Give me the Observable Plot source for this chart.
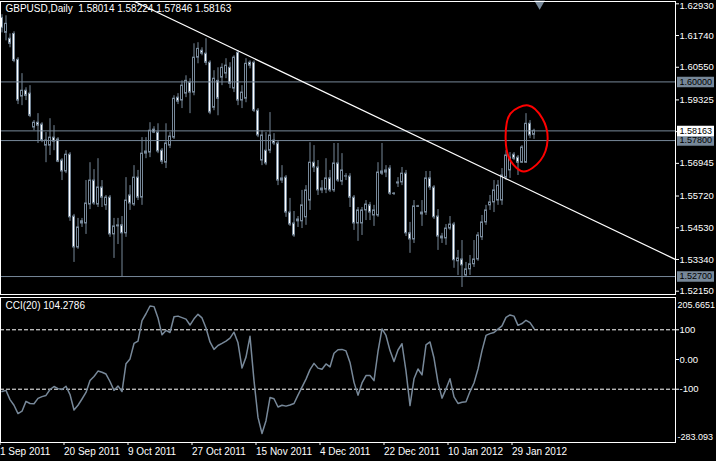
<!DOCTYPE html>
<html><head><meta charset="utf-8">
<script src="https://cdn.jsdelivr.net/npm/d3@7"></script>
<script src="https://cdn.jsdelivr.net/npm/@observablehq/plot@0.6"></script>
<style>
html,body{margin:0;padding:0;background:#000;}
#chart{width:716px;height:461px;overflow:hidden;background:#000;}
#chart svg{display:block;}
</style></head><body><div id="chart"></div>
<script>
// ---- data: GBPUSD daily bars, 1 Sep 2011 .. 3 Feb 2012 (index = bar number) ----
const opens = [1.6240,1.6184,1.6162,1.6180,1.6083,1.5945,1.5967,1.5956,1.5829,1.5847,
1.5840,1.5761,1.5761,1.5791,1.5784,1.5705,1.5664,1.5727,1.5495,1.5379,
1.5477,1.5469,1.5540,1.5630,1.5540,1.5604,1.5537,1.5566,1.5428,1.5458,
1.5462,1.5432,1.5574,1.5540,1.5641,1.5566,1.5731,1.5735,1.5821,1.5810,
1.5742,1.5697,1.5761,1.5791,1.5941,1.5930,1.5956,1.5997,1.5960,1.6091,
1.6117,1.6106,1.6072,1.5903,1.6004,1.6016,1.6031,1.6053,1.5975,1.6109,
1.5930,1.5937,1.6072,1.6072,1.5892,1.5705,1.5742,1.5742,1.5780,1.5769,
1.5630,1.5641,1.5510,1.5469,1.5477,1.5477,1.5492,1.5555,1.5697,1.5679,
1.5593,1.5596,1.5638,1.5593,1.5694,1.5626,1.5645,1.5645,1.5566,1.5469,
1.5469,1.5518,1.5537,1.5499,1.5499,1.5664,1.5660,1.5675,1.5581,1.5619,
1.5623,1.5656,1.5432,1.5409,1.5533,1.5503,1.5510,1.5638,1.5604,1.5495,
1.5420,1.5413,1.5450,1.5465,1.5327,1.5334,1.5274,1.5297,1.5316,1.5334,
1.5417,1.5473,1.5537,1.5548,1.5555,1.5555,1.5641,1.5668,1.5727,1.5716,
1.5697,1.5697,1.5843,1.58014];
const highs = [1.6252,1.6248,1.6180,1.6188,1.6091,1.6031,1.5978,1.5986,1.5855,1.5881,
1.5847,1.5810,1.5862,1.5836,1.5791,1.5712,1.5742,1.5735,1.5503,1.5488,
1.5488,1.5630,1.5697,1.5671,1.5712,1.5630,1.5574,1.5574,1.5488,1.5488,
1.5495,1.5641,1.5611,1.5686,1.5668,1.5791,1.5791,1.5847,1.5832,1.5843,
1.5750,1.5843,1.5810,1.5948,1.5956,1.6004,1.6023,1.6012,1.6143,1.6147,
1.6128,1.6162,1.6079,1.6042,1.6053,1.6068,1.6087,1.6072,1.6098,1.6117,
1.5986,1.6087,1.6079,1.6079,1.5900,1.5817,1.5810,1.5885,1.5806,1.5780,
1.5686,1.5649,1.5563,1.5514,1.5495,1.5593,1.5611,1.5772,1.5761,1.5705,
1.5630,1.5712,1.5668,1.5769,1.5769,1.5731,1.5656,1.5656,1.5574,1.5529,
1.5529,1.5555,1.5548,1.5537,1.5697,1.5769,1.5686,1.5686,1.5585,1.5641,
1.5679,1.5668,1.5473,1.5555,1.5537,1.5555,1.5664,1.5664,1.5611,1.5521,
1.5432,1.5465,1.5495,1.5473,1.5368,1.5405,1.5323,1.5349,1.5405,1.5435,
1.5499,1.5537,1.5574,1.5630,1.5630,1.5675,1.5742,1.5735,1.5735,1.5724,
1.5761,1.5881,1.5855,1.58224];
const lows = [1.6184,1.6154,1.6128,1.6072,1.5915,1.5911,1.5930,1.5866,1.5817,1.5769,
1.5772,1.5697,1.5724,1.5742,1.5697,1.5630,1.5656,1.5477,1.5323,1.5372,
1.5454,1.5428,1.5521,1.5537,1.5529,1.5529,1.5518,1.5417,1.5338,1.5390,
1.5267,1.5417,1.5518,1.5533,1.5555,1.5537,1.5712,1.5716,1.5806,1.5731,
1.5690,1.5675,1.5750,1.5784,1.5915,1.5900,1.5941,1.5881,1.5948,1.6068,
1.6098,1.6061,1.5877,1.5892,1.5873,1.5986,1.6012,1.5975,1.5960,1.5911,
1.5900,1.5922,1.6049,1.5885,1.5791,1.5686,1.5686,1.5731,1.5761,1.5611,
1.5619,1.5492,1.5458,1.5417,1.5454,1.5450,1.5462,1.5518,1.5660,1.5574,
1.5581,1.5581,1.5585,1.5585,1.5623,1.5611,1.5630,1.5529,1.5443,1.5402,
1.5424,1.5480,1.5480,1.5458,1.5492,1.5649,1.5641,1.5574,1.5574,1.5604,
1.5611,1.5420,1.5357,1.5394,1.5529,1.5458,1.5499,1.5593,1.5484,1.5368,
1.5394,1.5387,1.5443,1.5301,1.5274,1.5229,1.5267,1.5274,1.5304,1.5327,
1.5405,1.5462,1.5518,1.5510,1.5537,1.5537,1.5630,1.5638,1.5705,1.5649,
1.5694,1.5694,1.5787,1.57846];
const closes = [1.6203,1.6218,1.6143,1.6079,1.5930,1.5967,1.5948,1.5873,1.5847,1.5836,
1.5780,1.5780,1.5791,1.5776,1.5701,1.5664,1.5727,1.5492,1.5379,1.5454,
1.5469,1.5544,1.5630,1.5544,1.5604,1.5566,1.5566,1.5428,1.5458,1.5462,
1.5432,1.5555,1.5544,1.5641,1.5566,1.5731,1.5739,1.5817,1.5810,1.5739,
1.5701,1.5769,1.5795,1.5937,1.5926,1.5986,1.6004,1.5960,1.6091,1.6124,
1.6106,1.6072,1.5885,1.6012,1.5937,1.6053,1.6061,1.5993,1.6091,1.5930,
1.5960,1.6068,1.6061,1.5892,1.5799,1.5799,1.5694,1.5799,1.5769,1.5630,
1.5638,1.5510,1.5465,1.5424,1.5484,1.5537,1.5593,1.5697,1.5679,1.5593,
1.5600,1.5638,1.5593,1.5694,1.5630,1.5668,1.5646,1.5566,1.5469,1.5518,
1.5518,1.5540,1.5510,1.5518,1.5660,1.5656,1.5668,1.5581,1.5580,1.5623,
1.5656,1.5432,1.5409,1.5533,1.5532,1.5510,1.5638,1.5604,1.5492,1.5420,
1.5413,1.5450,1.5465,1.5331,1.5338,1.5312,1.5297,1.5316,1.5334,1.5424,
1.5473,1.5518,1.5548,1.5593,1.5611,1.5649,1.5724,1.5716,1.5712,1.5697,
1.5754,1.5843,1.5799,1.58163];
const cciValues = [-108,-104,-135,-154,-182,-174,-141,-148,-149,-131,
-125,-121,-101,-91,-98,-101,-90,-118,-170,-154,
-133,-111,-71,-57,-39,-43,-49,-74,-104,-89,
-108,-14,2,54,62,131,154,180,178,140,
83,98,91,144,146,141,136,116,137,152,
140,106,59,34,47,54,62,72,92,56,
-29,8,78,-71,-195,-249,-206,-128,-132,-160,
-154,-157,-153,-148,-120,-93,-66,-34,-13,-29,
-33,-15,-25,21,33,34,29,-10,-77,-120,
-79,-54,-54,-71,27,103,81,30,-7,32,
53,-39,-155,-65,-32,-52,49,59,5,-78,
-130,-99,-65,-126,-148,-144,-142,-108,-79,-32,
30,81,87,91,102,113,142,150,146,115,
121,132,124,104.2786];

const symbolName = "GBPUSD,Daily";
const cciName = "CCI(20)";
const priceTicks = [1.62930,1.61740,1.60550,1.59325,1.58135,1.56945,1.55720,1.54530,1.53340,1.52150];
const hiddenTick = 1.58135;                           // label covered by the bid box
const priceDomain = [1.52150, 1.62930];
const hLevels = [1.60000, 1.57800, 1.52700];           // horizontal line objects
const trendIdx = [32.6, 168.4];                       // trend line anchors (bar index)
const trendPrice = [1.63054, 1.53339];                // trend line anchors (price)
const ellipseIdx = [131.6, 135.1, 136.4, 134.6, 130.4, 127.1, 125.9, 127.1];
const ellipsePrice = [1.59115, 1.58628, 1.57840, 1.57052, 1.56640, 1.57052, 1.57915, 1.58815];
const shiftMarker = [134.4];
const cciDomain = [-283.093, 205.6651];
const cciMidTicks = [100, 0, -100];
const cciMidLabels = ["100", "0.00", "-100"];
const cciLevels = [100, -100];
const dateTicks = [0, 16, 32, 48, 64, 80, 96, 112, 128];
const dateLabels = ["1 Sep 2011","20 Sep 2011","9 Oct 2011","27 Oct 2011","15 Nov 2011","4 Dec 2011","22 Dec 2011","10 Jan 2012","29 Jan 2012"];

// ---- build ----
const bars = opens.map((o, i) => ({i, o, h: highs[i], l: lows[i], c: closes[i]}));
const last = bars[bars.length - 1];
const bid = last.c;
const levels = [...hLevels, bid];
const trend = trendIdx.map((i, k) => ({i, p: trendPrice[k]}));
const ellipse = ellipseIdx.map((i, k) => ({i, p: ellipsePrice[k]}));
const f5 = d3.format(".5f");
const GRAY = "#778899";
const FONT = "'Liberation Sans', Arial, sans-serif";
const AX = 9.5; // right-scale font size
const BX = 9;   // label-box font size
const N = bars.length - 1;
const topTick = priceTicks[0];
const title = `${symbolName}\u00a0\u00a0${f5(last.o)} ${f5(last.h)} ${f5(last.l)} ${f5(last.c)}`;
const cciTitle = `${cciName} ${cciValues[cciValues.length - 1].toFixed(4)}`;

const main = Plot.plot({
  width: 716, height: 296,
  marginLeft: 0, marginRight: 41, marginTop: 1, marginBottom: 2,
  style: {background: "#000", color: "#fff", fontFamily: FONT, fontSize: "10px", overflow: "visible"},
  x: {domain: [0, N], range: [1.5, 1.5 + 4 * N], axis: null},
  y: {domain: priceDomain, range: [290.7, 3.3], axis: null},
  marks: [
    Plot.ruleX(bars, {x: "i", y1: "l", y2: "h", stroke: GRAY}),
    Plot.rect(bars, {x1: d => d.i - 0.25, x2: d => d.i + 0.25, y1: "o", y2: "c",
      fill: d => d.c >= d.o ? "#000" : "#fff", stroke: GRAY}),
    Plot.ruleY(levels, {stroke: GRAY}),
    Plot.line(trend, {x: "i", y: "p", stroke: "#fff", strokeWidth: 1.2, clip: true}),
    Plot.line(ellipse, {x: "i", y: "p", curve: "catmull-rom-closed", stroke: "#ff0000", strokeWidth: 2}),
    Plot.dot(shiftMarker, {x: d => d, frameAnchor: "top", symbol: "triangle", r: 4, rotate: 180, fill: GRAY, dy: 2}),
    Plot.frame({stroke: "#fff"}),
    Plot.axisY(priceTicks, {anchor: "right", tickSize: 3, tickPadding: 1, fontSize: AX,
      tickFormat: d => (d === topTick || d === hiddenTick) ? "" : f5(d), label: null, stroke: "#fff", fill: "#fff"}),
    Plot.text([topTick], {y: d => d, text: d => f5(d), frameAnchor: "right", textAnchor: "start", dx: 4, dy: 2, fontSize: AX, fill: "#fff"}),
    Plot.ruleY(levels, {stroke: d => d === bid ? "#fff" : GRAY, strokeWidth: 10.5, insetLeft: 677, insetRight: -39}),
    Plot.text(levels, {y: d => d, text: d => f5(d), frameAnchor: "right", textAnchor: "start", dx: 4, fontSize: BX, fill: "#000"}),
    Plot.text([title], {text: d => d, frameAnchor: "top-left", dx: 5, dy: 3, fill: "#fff"})
  ]
});

const cci = Plot.plot({
  width: 716, height: 165,
  marginLeft: 0, marginRight: 41, marginTop: 1, marginBottom: 19,
  style: {background: "#000", color: "#fff", fontFamily: FONT, fontSize: "10px", overflow: "visible"},
  x: {domain: [0, N], range: [1.5, 1.5 + 4 * N], axis: null},
  y: {domain: cciDomain, range: [147.1, 1.9], axis: null},
  marks: [
    Plot.ruleY(cciLevels, {stroke: "#fff", strokeDasharray: "4,2"}),
    Plot.line(cciValues, {x: (d, i) => i, y: d => d, stroke: GRAY}),
    Plot.frame({stroke: "#fff"}),
    Plot.axisY(cciMidTicks, {anchor: "right", tickSize: 3, tickPadding: 1, fontSize: AX,
      tickFormat: d => cciMidLabels[cciMidTicks.indexOf(d)], label: null, stroke: "#fff", fill: "#fff"}),
    Plot.text([cciDomain[1]], {y: d => d, text: d => String(d), frameAnchor: "right", textAnchor: "start", dx: 2, dy: 7, fontSize: BX, fill: "#fff"}),
    Plot.text([cciDomain[0]], {y: d => d, text: d => String(d), frameAnchor: "right", textAnchor: "start", dx: 2, dy: -6, fontSize: BX, fill: "#fff"}),
    Plot.axisX(dateTicks, {anchor: "bottom", tickSize: 3, tickPadding: 2, tickFormat: d => dateLabels[dateTicks.indexOf(d)],
      textAnchor: "start", dx: -2, label: null, stroke: "#fff", fill: "#fff"}),
    Plot.text([cciTitle], {text: d => d, frameAnchor: "top-left", dx: 5, dy: 4, fill: "#fff"})
  ]
});

const root = document.getElementById("chart");
root.appendChild(main);
root.appendChild(cci);
</script></body></html>
